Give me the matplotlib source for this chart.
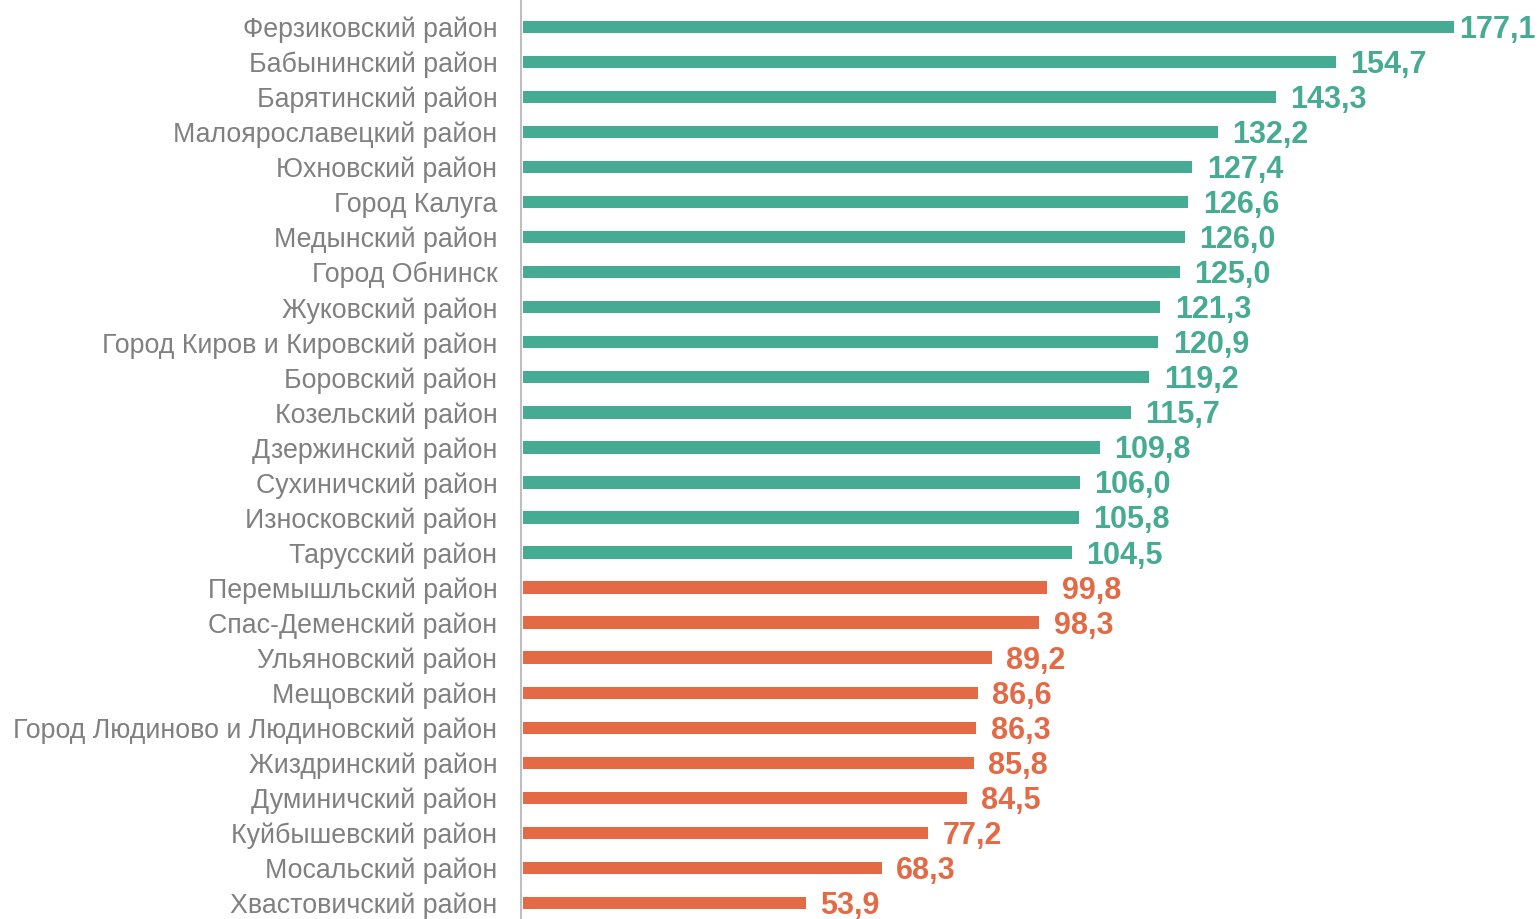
import matplotlib.pyplot as plt
import numpy as np

plt.rcParams['font.family'] = ['Liberation Sans', 'DejaVu Sans']

districts = [
    'Ферзиковский район', 'Бабынинский район', 'Барятинский район',
    'Малоярославецкий район', 'Юхновский район', 'Город Калуга',
    'Медынский район', 'Город Обнинск', 'Жуковский район',
    'Город Киров и Кировский район', 'Боровский район', 'Козельский район',
    'Дзержинский район', 'Сухиничский район', 'Износковский район',
    'Тарусский район', 'Перемышльский район', 'Спас-Деменский район',
    'Ульяновский район', 'Мещовский район',
    'Город Людиново и Людиновский район', 'Жиздринский район',
    'Думиничский район', 'Куйбышевский район', 'Мосальский район',
    'Хвастовичский район',
]
values = [177.1, 154.7, 143.3, 132.2, 127.4, 126.6, 126.0, 125.0, 121.3,
          120.9, 119.2, 115.7, 109.8, 106.0, 105.8, 104.5, 99.8, 98.3,
          89.2, 86.6, 86.3, 85.8, 84.5, 77.2, 68.3, 53.9]

teal = '#46ab93'
orange = '#e46a46'
colors = [teal if v >= 100 else orange for v in values]

fig = plt.figure(figsize=(15.4, 9.19), dpi=100)
ax = fig.add_axes([521 / 1540, 0, 1 - 521 / 1540, 1])

y = np.arange(len(values))
ax.barh(y, values, height=0.35, color=colors, left=0.3)

labels = []
for yi, v, c in zip(y, values, colors):
    t = ax.annotate(f'{v:.1f}'.replace('.', ','), (v, yi), xytext=(16, -3),
                    textcoords='offset pixels', va='center', ha='left',
                    fontsize=22, fontweight='bold', color=c)
    labels.append(t)

ax.set_xlim(0, 193.8)
ax.set_ylim(25.46, -0.77)
ax.set_yticks(y)
ax.set_yticklabels(districts, fontsize=19.3, color='#808080')
ax.tick_params(axis='y', length=0, pad=17)
ax.set_xticks([])
for s in ['top', 'right', 'bottom']:
    ax.spines[s].set_visible(False)
ax.spines['left'].set_color('#bfbfbf')
ax.spines['left'].set_linewidth(1.5)

# keep value labels inside the figure (like the original, which nudges the top one left)
fig.canvas.draw()
r = fig.canvas.get_renderer()
W = fig.bbox.width
for t in labels:
    bb = t.get_window_extent(r)
    if bb.x1 > W - 4:
        dx = bb.x1 - (W - 4)
        x0, y0 = t.xyann
        t.xyann = (x0 - dx, y0)

fig.savefig('out.png', dpi=100)
